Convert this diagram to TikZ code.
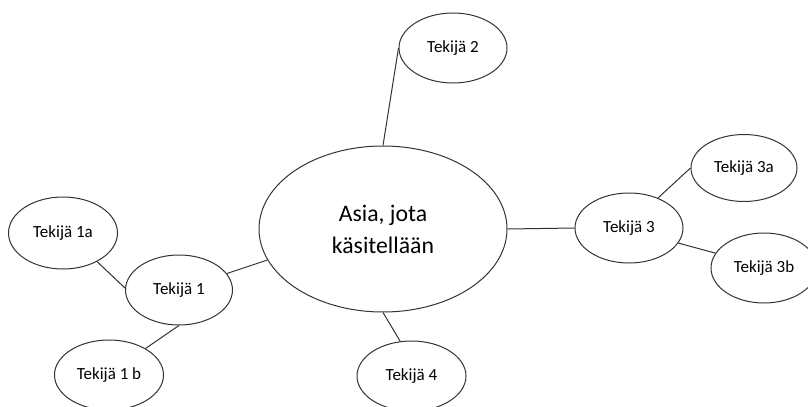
\documentclass[tikz,border=0pt]{standalone}
\usepackage{fontspec}
\setmainfont{Carlito}
\usetikzlibrary{shapes.geometric}
\begin{document}
\begin{tikzpicture}[x=0.75pt,y=-0.75pt,
  bubble/.style={ellipse, draw=black!80, line width=0.75pt, inner sep=0pt,
    minimum width=81pt, minimum height=52.5pt,
    font=\fontsize{12.75}{15}\selectfont},
  hub/.style={ellipse, draw=black!80, line width=0.75pt, inner sep=0pt,
    minimum width=186pt, minimum height=124.5pt, align=center,
    font=\fontsize{17.8}{24}\selectfont},
  link/.style={draw=black!80, line width=0.75pt}]
\useasboundingbox (0,0) rectangle (808,407);
\clip (0,0) rectangle (808,407);

% central topic
\node[hub] (c) at (383,229) {Asia, jota\\käsitellään};

% factors
\node[bubble] (t2)  at (453,48)  {Tekijä 2};
\node[bubble] (t3)  at (629,228) {Tekijä 3};
\node[bubble, minimum width=79.5pt, minimum height=50.25pt] (t3a) at (744,168) {Tekijä 3a};
\node[bubble, minimum width=79.5pt] (t3b) at (764,268) {Tekijä 3b};
\node[bubble, minimum width=80.25pt] (t1)  at (179,290) {Tekijä 1};
\node[bubble, minimum width=81.75pt, minimum height=54pt] (t1a) at (63,233) {Tekijä 1a};
\node[bubble, minimum width=81.75pt] (t1b) at (109,375) {Tekijä 1 b};
\node[bubble, minimum width=81.75pt] (t4)  at (411.5,376) {Tekijä 4};

% connectors
\draw[link] (c.90) -- (t2.180);
\draw[link] (c.0) -- (t3.180);
\draw[link] (t3.46) -- (t3a.180);
\draw[link] (t3.343) -- (t3b.163);
\draw[link] (c.195.8) -- (t1.19);
\draw[link] (t1.178) -- (t1a.320.5);
\draw[link] (t1.270) -- (t1b.36);
\draw[link] (c.270) -- (t4.108);
\end{tikzpicture}
\end{document}
